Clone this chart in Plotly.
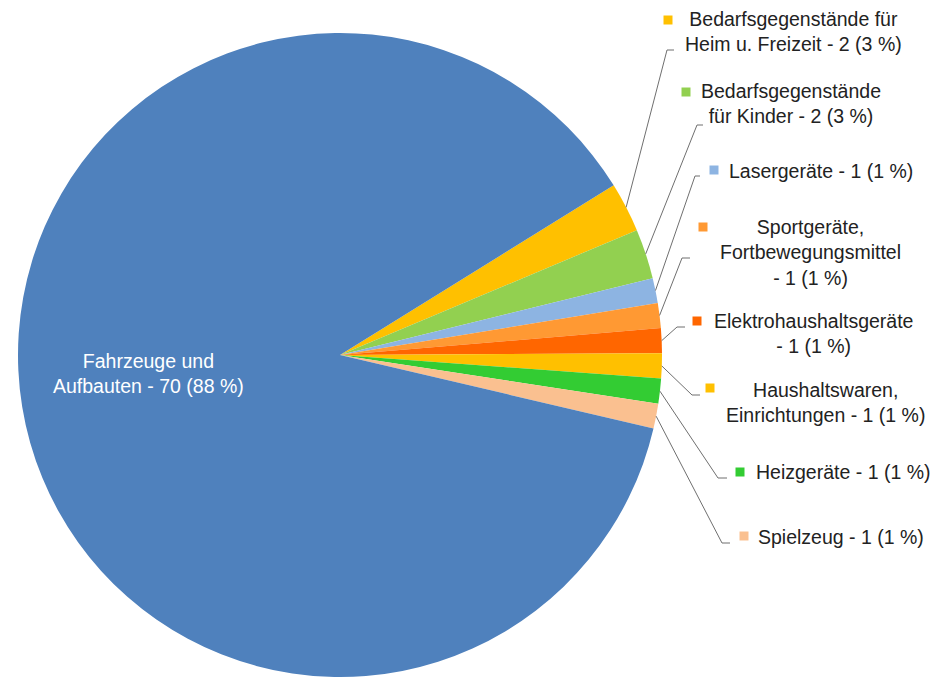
import math
import plotly.graph_objects as go

# --- data -------------------------------------------------------------
categories = [
    "Bedarfsgegenstände für Heim u. Freizeit",
    "Bedarfsgegenstände für Kinder",
    "Lasergeräte",
    "Sportgeräte, Fortbewegungsmittel",
    "Elektrohaushaltsgeräte",
    "Haushaltswaren, Einrichtungen",
    "Heizgeräte",
    "Spielzeug",
    "Fahrzeuge und Aufbauten",
]
values = [2, 2, 1, 1, 1, 1, 1, 1, 70]
label_templates = [
    "Bedarfsgegenstände für<br>Heim u. Freizeit - {v} ({p} %)",
    "Bedarfsgegenstände<br>für Kinder - {v} ({p} %)",
    "Lasergeräte - {v} ({p} %)",
    "Sportgeräte,<br>Fortbewegungsmittel<br>- {v} ({p} %)",
    "Elektrohaushaltsgeräte<br>- {v} ({p} %)",
    "Haushaltswaren,<br>Einrichtungen - {v} ({p} %)",
    "Heizgeräte - {v} ({p} %)",
    "Spielzeug - {v} ({p} %)",
    "Fahrzeuge und<br>Aufbauten - {v} ({p} %)",
]

# --- styling ----------------------------------------------------------
colors = ["#FFC000", "#92D050", "#8DB4E2", "#FF9933", "#FF6600",
          "#FFC000", "#33CC33", "#FAC090", "#4F81BD"]

W, H = 941, 677
CX, CY, R = 340, 355, 322          # pie centre / radius in pixels
START = 58.2                        # first slice edge, degrees clockwise from 12 o'clock
FONT = "Liberation Sans, Arial, sans-serif"
FS = 19.5
TEXT_COLOR = "#222222"
LINE_COLOR = "#6f6f6f"

# label placement (pixels): text centre, key square centre, leader elbow, leader end
placement = [
    dict(text=(793, 32),  key=(668, 20),  elbow=(667, 50),  end=(674, 50)),
    dict(text=(791, 104), key=(686, 92),  elbow=(697, 125), end=(703, 125)),
    dict(text=(821, 171), key=(714, 170), elbow=(695, 176), end=(700, 176)),
    dict(text=(810, 253), key=(703, 227), elbow=(682, 258), end=(690, 258)),
    dict(text=(813, 333), key=(697, 321), elbow=(677, 327), end=(685, 327)),
    dict(text=(825, 402), key=(710, 388), elbow=(692, 395), end=(700, 395)),
    dict(text=(843, 472), key=(740, 472), elbow=(718, 478), end=(727, 478)),
    dict(text=(841, 537), key=(744, 536), elbow=(722, 543), end=(730, 543)),
]
inner_text_pos = (148, 373)


def px(x):
    return x / W


def py(y):
    return 1 - y / H


total = sum(values)


def pct(v):
    return int(v / total * 100 + 0.5)


fig = go.Figure(go.Pie(
    labels=categories,
    values=values,
    sort=False,
    direction="clockwise",
    rotation=START,
    marker=dict(colors=colors, line=dict(width=0)),
    textinfo="none",
    hoverinfo="label+value+percent",
    showlegend=False,
    domain=dict(x=[px(CX - R), px(CX + R)], y=[py(CY + R), py(CY - R)]),
))

annotations = []
shapes = []

cum = 0
for i, v in enumerate(values):
    mid = math.radians(START + (cum + v / 2) / total * 360)
    cum += v
    text = label_templates[i].format(v=v, p=pct(v))
    if i >= len(placement):
        annotations.append(dict(
            x=px(inner_text_pos[0]), y=py(inner_text_pos[1]),
            xref="paper", yref="paper", showarrow=False,
            xanchor="center", yanchor="middle", align="center",
            text=text, font=dict(family=FONT, size=FS, color="#ffffff"),
        ))
        continue
    p = placement[i]
    # leader line from the slice's outer edge to the label
    ex = CX + R * math.sin(mid)
    ey = CY - R * math.cos(mid)
    shapes.append(dict(
        type="path", xref="paper", yref="paper",
        path=f"M {px(ex)},{py(ey)} L {px(p['elbow'][0])},{py(p['elbow'][1])} "
             f"L {px(p['end'][0])},{py(p['end'][1])}",
        line=dict(color=LINE_COLOR, width=1),
    ))
    # legend key square
    kx, ky = p["key"]
    s = 4.5
    shapes.append(dict(
        type="rect", xref="paper", yref="paper",
        x0=px(kx - s), x1=px(kx + s), y0=py(ky + s), y1=py(ky - s),
        fillcolor=colors[i], line=dict(width=0),
    ))
    annotations.append(dict(
        x=px(p["text"][0]), y=py(p["text"][1]),
        xref="paper", yref="paper", showarrow=False,
        xanchor="center", yanchor="middle", align="center",
        text=text, font=dict(family=FONT, size=FS, color=TEXT_COLOR),
    ))

fig.update_layout(
    width=W, height=H,
    margin=dict(l=0, r=0, t=0, b=0),
    paper_bgcolor="#ffffff",
    plot_bgcolor="#ffffff",
    annotations=annotations,
    shapes=shapes,
)

fig.write_html("out.html")
